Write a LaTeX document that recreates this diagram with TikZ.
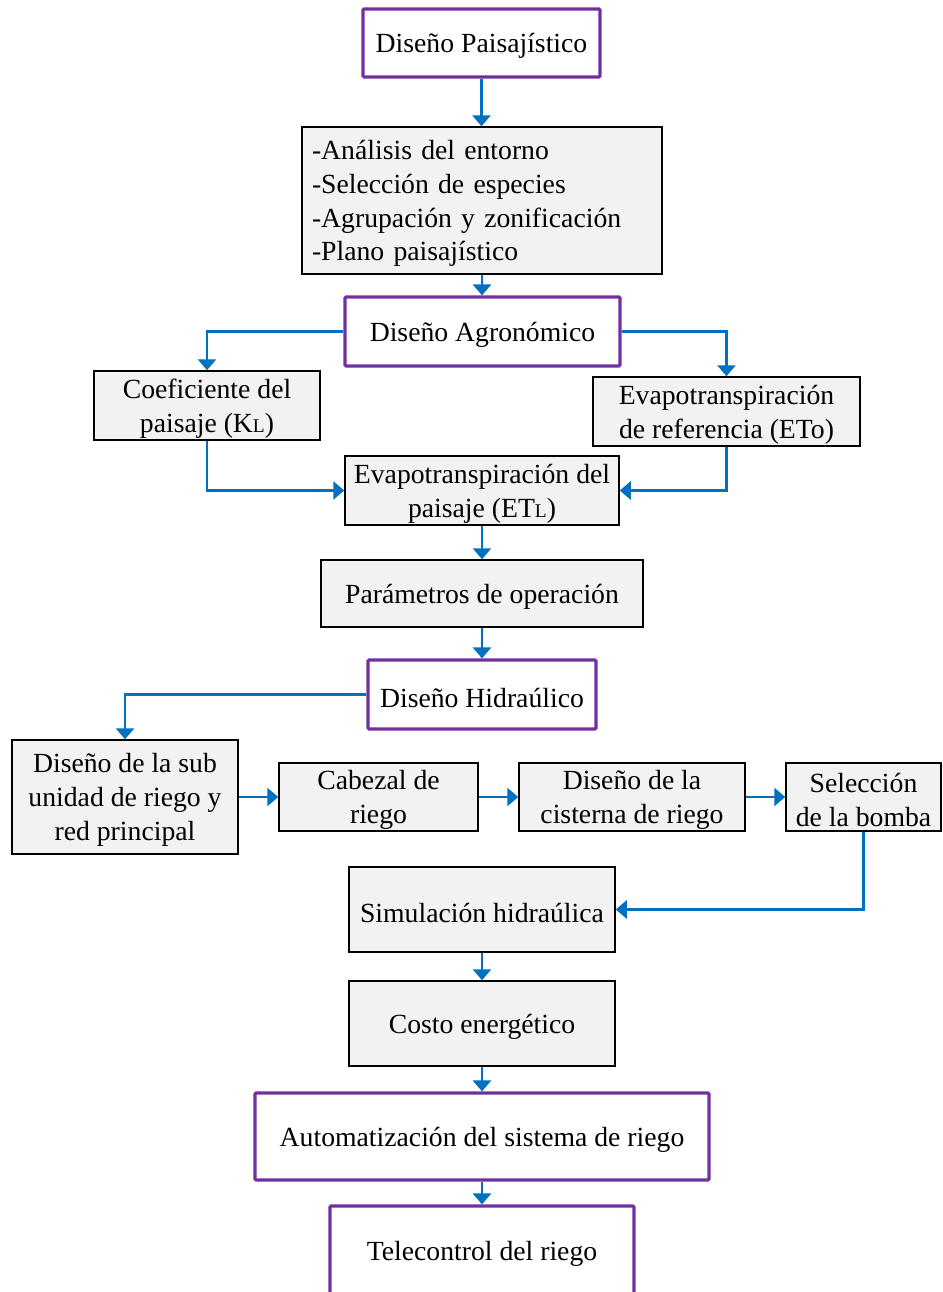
\documentclass[tikz,border=0pt]{standalone}
\usepackage{fontspec}
\setmainfont{Liberation Serif}
\usetikzlibrary{arrows.meta}
\definecolor{phase}{HTML}{7030A0}
\definecolor{flow}{HTML}{0070C0}
\definecolor{stepfill}{HTML}{F2F2F2}
\newcommand{\lowcap}[1]{{\fontsize{9.7}{10}\selectfont #1}}

\begin{document}
\begin{tikzpicture}[x=0.5pt,y=-0.5pt,
  boxtext/.style={inner sep=0pt, align=center, yshift=-1.5pt, font=\fontsize{13.85}{16.9}\selectfont},
  phasebox/.style={inner sep=0pt, draw=phase, line width=1.6pt, fill=white, rounded corners=0.6pt},
  taskbox/.style={inner sep=0pt, draw=black, line width=0.75pt, fill=stepfill},
  link/.style={draw=flow, line width=1.45pt, -{Triangle[length=5.5pt,width=9pt]}}
]
\useasboundingbox (0,0) rectangle (943,1292);

% phases and tasks (box first, its text centred as a label)
\node[phasebox, minimum width=118.5pt, minimum height=34pt,
  label={[boxtext]center:{Diseño Paisajístico}}] (paisaj) at (481.5,43) {};
\node[taskbox, minimum width=180pt, minimum height=73.5pt,
  label={[boxtext, align=left, text width=170pt]center:{-Análisis del entorno\\-Selección de especies\\-Agrupación y zonificación\\-Plano paisajístico}}] (lista) at (482,200.5) {};
\node[phasebox, minimum width=137.5pt, minimum height=34.5pt,
  label={[boxtext]center:{Diseño Agronómico}}] (agro) at (482.5,331.5) {};
\node[taskbox, minimum width=113pt, minimum height=34.5pt,
  label={[boxtext]center:{Coeficiente del\\paisaje (K\lowcap{L})}}] (coef) at (207,405.5) {};
\node[taskbox, minimum width=133.5pt, minimum height=34.5pt,
  label={[boxtext]center:{Evapotranspiración\\de referencia (ETo)}}] (etref) at (726.5,411.5) {};
\node[taskbox, minimum width=137pt, minimum height=34.5pt,
  label={[boxtext]center:{Evapotranspiración del\\paisaje (ET\lowcap{L})}}] (etpais) at (482,490.5) {};
\node[taskbox, minimum width=161pt, minimum height=33.5pt,
  label={[boxtext]center:{Parámetros de operación}}] (param) at (482,593.5) {};
\node[phasebox, minimum width=114pt, minimum height=34.5pt,
  label={[boxtext]center:{Diseño Hidraúlico}}] (hidr) at (482,694.5) {};
\node[taskbox, minimum width=113pt, minimum height=57pt,
  label={[boxtext]center:{Diseño de la sub\\unidad de riego y\\red principal}}] (subu) at (125,797) {};
\node[taskbox, minimum width=99.5pt, minimum height=34pt,
  label={[boxtext]center:{Cabezal de\\riego}}] (cabez) at (378.5,797) {};
\node[taskbox, minimum width=113pt, minimum height=34pt,
  label={[boxtext]center:{Diseño de la\\cisterna de riego}}] (cist) at (632,797) {};
\node[taskbox, minimum width=77.5pt, minimum height=34pt,
  label={[boxtext]center:{Selección\\de la bomba}}] (bomba) at (863.5,797) {};
\node[taskbox, minimum width=133pt, minimum height=42.5pt,
  label={[boxtext]center:{Simulación hidraúlica}}] (simul) at (482,909.5) {};
\node[taskbox, minimum width=133pt, minimum height=42.5pt,
  label={[boxtext]center:{Costo energético}}] (costo) at (482,1023.5) {};
\node[phasebox, minimum width=227pt, minimum height=43.5pt,
  label={[boxtext]center:{Automatización del sistema de riego}}] (auto) at (482,1136.5) {};
\node[phasebox, minimum width=152pt, minimum height=45pt,
  label={[boxtext]center:{Telecontrol del riego}}] (tele) at (482,1251) {};

% connectors
\draw[link] (paisaj.south) -- (paisaj.south |- lista.north);
\draw[link] (lista.south) -- (lista.south |- agro.north);
\draw[link] (agro.west) -| (coef.north);
\draw[link] (agro.east) -| (etref.north);
\draw[link] (coef.south) |- (etpais.west);
\draw[link] (etref.south) |- (etpais.east);
\draw[link] (etpais.south) -- (etpais.south |- param.north);
\draw[link] (param.south) -- (param.south |- hidr.north);
\draw[link] (hidr.west) -| (subu.north);
\draw[link] (subu.east) -- (cabez.west);
\draw[link] (cabez.east) -- (cist.west);
\draw[link] (cist.east) -- (bomba.west);
\draw[link] (bomba.south) |- (simul.east);
\draw[link] (simul.south) -- (simul.south |- costo.north);
\draw[link] (costo.south) -- (costo.south |- auto.north);
\draw[link] (auto.south) -- (auto.south |- tele.north);
\end{tikzpicture}
\end{document}
